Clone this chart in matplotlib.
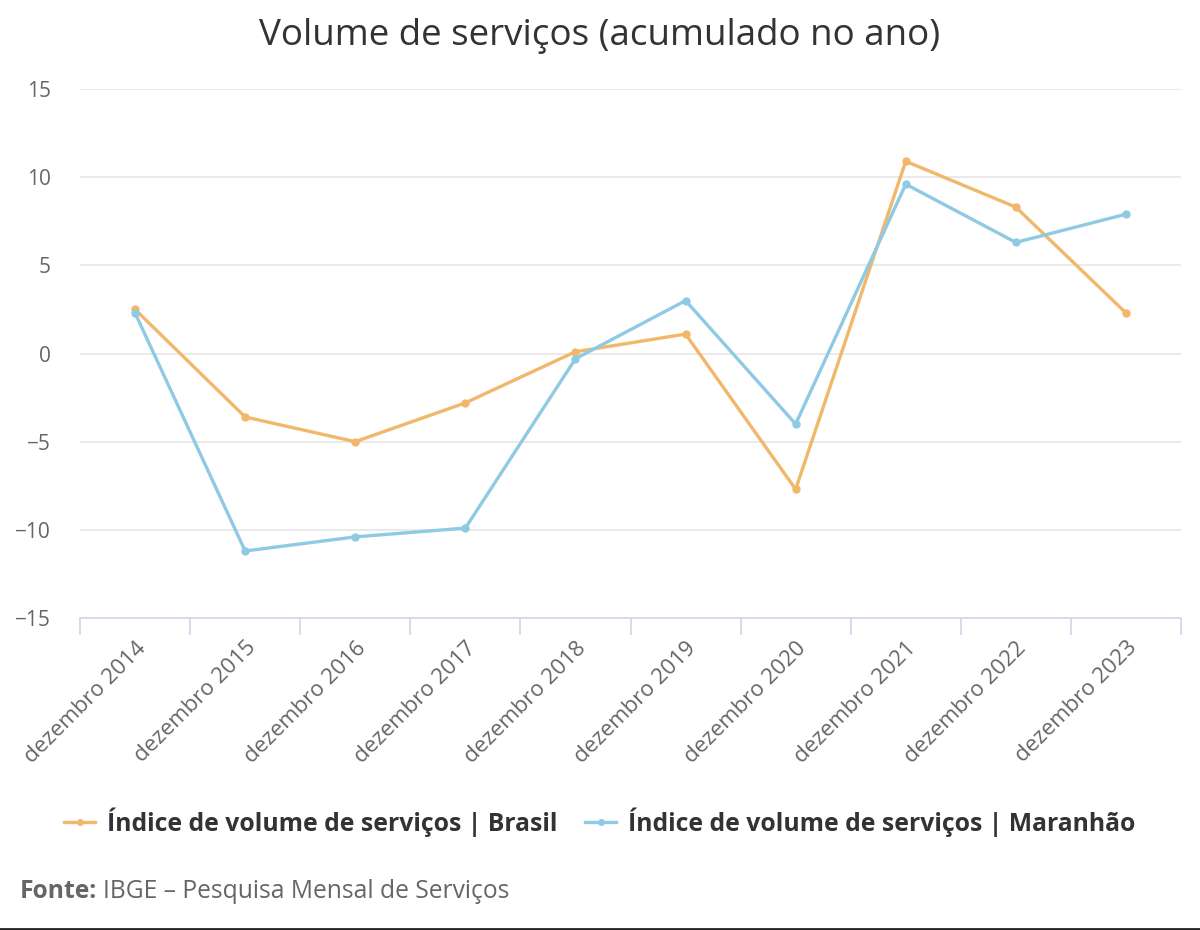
import matplotlib
matplotlib.use('Agg')
import matplotlib.pyplot as plt
from matplotlib.lines import Line2D

plt.rcParams['font.family'] = ['Open Sans', 'DejaVu Sans']

anos = ['dezembro 2014', 'dezembro 2015', 'dezembro 2016', 'dezembro 2017', 'dezembro 2018',
        'dezembro 2019', 'dezembro 2020', 'dezembro 2021', 'dezembro 2022', 'dezembro 2023']
brasil = [2.5, -3.6, -5.0, -2.8, 0.1, 1.1, -7.7, 10.9, 8.3, 2.3]
maranhao = [2.3, -11.2, -10.4, -9.9, -0.3, 3.0, -4.0, 9.6, 6.3, 7.9]
y_ticks = [-15, -10, -5, 0, 5, 10, 15]

nome_brasil = 'Índice de volume de serviços | Brasil'
nome_maranhao = 'Índice de volume de serviços | Maranhão'

cor_brasil = '#f1b86c'
cor_maranhao = '#8fcae4'
cor_texto = '#666666'

fig = plt.figure(figsize=(12, 9.3), dpi=100)
ax = fig.add_axes([80/1200, 1 - 618/930, 1101/1200, 529/930])

x = list(range(len(anos)))
ax.plot(x, brasil, color=cor_brasil, lw=2.4, marker='o', ms=5, zorder=3)
ax.plot(x, maranhao, color=cor_maranhao, lw=2.4, marker='o', ms=5, zorder=4)

ax.set_xlim(-0.5, len(anos) - 0.5)
ax.set_ylim(-15, 15)
ax.set_yticks(y_ticks)
ax.set_yticklabels(['−15', '−10', '−5', '0', '5', '10', '15'])
ax.grid(axis='y', color='#e6e6e6', lw=1.2)
ax.set_axisbelow(True)

for s in ['top', 'right', 'left']:
    ax.spines[s].set_visible(False)
ax.spines['bottom'].set_color('#ccd6eb')
ax.spines['bottom'].set_linewidth(1.2)

ax.tick_params(axis='y', length=0, pad=21, labelsize=15, labelcolor=cor_texto)
ax.set_xticks([i - 0.5 for i in range(len(anos) + 1)], minor=False)
ax.set_xticklabels([])
ax.tick_params(axis='x', which='major', length=12, color='#ccd6eb', width=1.2)
ax.set_xticks(x, minor=True)
ax.set_xticklabels(anos, minor=True, rotation=45, ha='right', va='top',
                   rotation_mode='anchor', fontsize=16, color=cor_texto)
ax.tick_params(axis='x', which='minor', length=0, pad=14)

# titulo
fig.text(0.5, 1 - 36/930, 'Volume de serviços (acumulado no ano)', ha='center', va='center',
         fontsize=26.5, color='#333333')

# legenda
handles = [Line2D([], [], color=cor_brasil, lw=2.4, marker='o', ms=4),
           Line2D([], [], color=cor_maranhao, lw=2.4, marker='o', ms=4)]
fig.legend(handles, [nome_brasil, nome_maranhao], loc='center', ncol=2,
           bbox_to_anchor=(0.5, 1 - 822/930), frameon=False, handlelength=1.25,
           handletextpad=0.5, columnspacing=1.1,
           prop={'weight': 'bold', 'size': 17.8}, labelcolor='#333333')

# fonte
t1 = fig.text(20/1200, 1 - 891/930, 'Fonte:', ha='left', va='center', fontsize=17.7,
              weight='bold', color=cor_texto)
fig.canvas.draw()
bb = t1.get_window_extent()
fig.text(bb.x1 / 1200 + 6/1200, 1 - 891/930, 'IBGE – Pesquisa Mensal de Serviços', ha='left',
         va='center', fontsize=17.7, color=cor_texto)

fig.add_artist(Line2D([0, 1], [1/930, 1/930], color='#222222', lw=2, transform=fig.transFigure))

fig.savefig('out.png', dpi=100, facecolor='white')
